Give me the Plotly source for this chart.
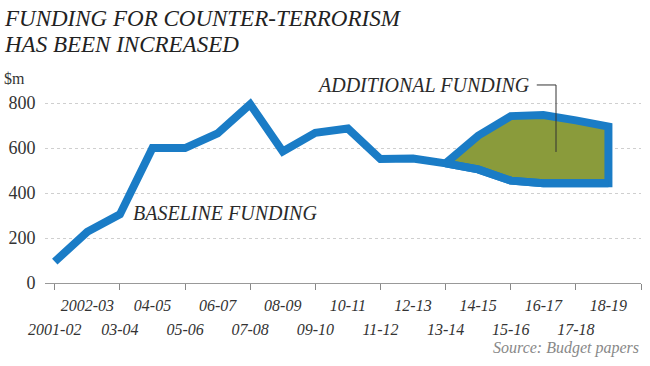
import plotly.graph_objects as go

# ---- data ----
years = ["2001-02", "2002-03", "03-04", "04-05", "05-06", "06-07", "07-08", "08-09",
         "09-10", "10-11", "11-12", "12-13", "13-14", "14-15", "15-16", "16-17",
         "17-18", "18-19"]
baseline = [95, 228, 305, 600, 600, 665, 795, 585, 668, 687, 551, 553, 532, 505,
            455, 444, 444, 444]
# total funding (baseline + additional) from 2013-14 onwards
total_years = ["13-14", "14-15", "15-16", "16-17", "17-18", "18-19"]
total = [532, 655, 742, 747, 723, 695]
y_ticks = [0, 200, 400, 600, 800]

BLUE = "#1a7cc6"
GREEN = "#8a9b3b"
SERIF = "Liberation Serif"

idx = list(range(len(years)))
t_idx = [years.index(y) for y in total_years]
base_sub = [baseline[i] for i in t_idx]

fig = go.Figure()

# additional funding polygon (upper line, then baseline backwards)
fig.add_trace(go.Scatter(
    x=t_idx + t_idx[::-1],
    y=total + base_sub[::-1],
    fill="toself", fillcolor=GREEN,
    mode="lines", line=dict(color=BLUE, width=8),
    hoverinfo="skip", showlegend=False,
))
# baseline funding line
fig.add_trace(go.Scatter(
    x=idx, y=baseline, mode="lines",
    line=dict(color=BLUE, width=8),
    showlegend=False,
))
# empty traces so the helper x axes are drawn
for ax in ("x2", "x3"):
    fig.add_trace(go.Scatter(x=[0, 1], y=[None, None], xaxis=ax, yaxis="y",
                             mode="lines", hoverinfo="skip", showlegend=False))

XR = [-0.3, 18]
odd = [i for i in idx if i % 2 == 1]
even = [i for i in idx if i % 2 == 0]
tickfont = dict(family=SERIF, size=16, color="#333", style="italic")

fig.update_layout(
    width=650, height=366,
    margin=dict(l=45, r=9, t=90, b=83),
    paper_bgcolor="white", plot_bgcolor="white",
    xaxis=dict(range=XR, tickmode="array", tickvals=odd,
               ticktext=[years[i] for i in odd],
               ticks="outside", ticklen=8, tickcolor="rgba(0,0,0,0)",
               tickfont=tickfont, showgrid=False, zeroline=False,
               showline=True, linecolor="#999", linewidth=1, automargin=False),
    xaxis2=dict(range=XR, overlaying="x", side="bottom", anchor="y", tickmode="array",
                tickvals=even, ticktext=[years[i] for i in even],
                ticks="outside", ticklen=32, tickcolor="rgba(0,0,0,0)",
                tickfont=tickfont, showgrid=False, zeroline=False,
                showline=False, automargin=False),
    xaxis3=dict(range=XR, overlaying="x", side="bottom", anchor="y", tickmode="array",
                tickvals=list(range(0, 19, 2)), ticks="outside", ticklen=6,
                tickcolor="#888", tickwidth=1, showticklabels=False,
                showgrid=False, zeroline=False, showline=False, automargin=False),
    yaxis=dict(range=[0, 858], tickmode="array", tickvals=y_ticks,
               ticks="outside", ticklen=5, tickcolor="rgba(0,0,0,0)",
               tickfont=dict(family=SERIF, size=18, color="#333"),
               showgrid=True, gridcolor="#cfcfcf", gridwidth=1, griddash="dot",
               zeroline=False, showline=False, automargin=False),
    showlegend=False,
)

ann_font = dict(family=SERIF, size=20, color="#2a2a2a", style="italic")
fig.add_annotation(text="FUNDING FOR COUNTER-TERRORISM", xref="paper", yref="paper",
                   x=-0.072, y=1.37, xanchor="left", yanchor="middle", showarrow=False,
                   font=dict(family=SERIF, size=23, color="#222", style="italic"))
fig.add_annotation(text="HAS BEEN INCREASED", xref="paper", yref="paper",
                   x=-0.072, y=1.236, xanchor="left", yanchor="middle", showarrow=False,
                   font=dict(family=SERIF, size=23, color="#222", style="italic"))
fig.add_annotation(text="$m", xref="paper", yref="paper", x=-0.072, y=1.062,
                   xanchor="left", yanchor="middle", showarrow=False,
                   font=dict(family=SERIF, size=16, color="#333"))
fig.add_annotation(text="Source: Budget papers", xref="paper", yref="paper",
                   x=1.0, y=-0.337, xanchor="right", yanchor="middle", showarrow=False,
                   font=dict(family=SERIF, size=16, color="#888", style="italic"))
fig.add_annotation(text="BASELINE FUNDING", xref="x", yref="y", x=2.33, y=311,
                   xanchor="left", yanchor="middle", showarrow=False, font=ann_font)
fig.add_annotation(text="ADDITIONAL FUNDING", xref="x", yref="paper", x=14.65, y=1.026,
                   xanchor="right", yanchor="middle", showarrow=False, font=ann_font)
# leader line from label into the additional-funding area
fig.add_shape(type="path", xref="x", yref="paper",
              path="M 14.8,1.026 L 15.39,1.026 L 15.39,0.679",
              line=dict(color="#333", width=1))

fig.write_html("out.html", config={"displayModeBar": False},
               post_script="document.body.style.margin='0';document.body.style.padding='0';")
